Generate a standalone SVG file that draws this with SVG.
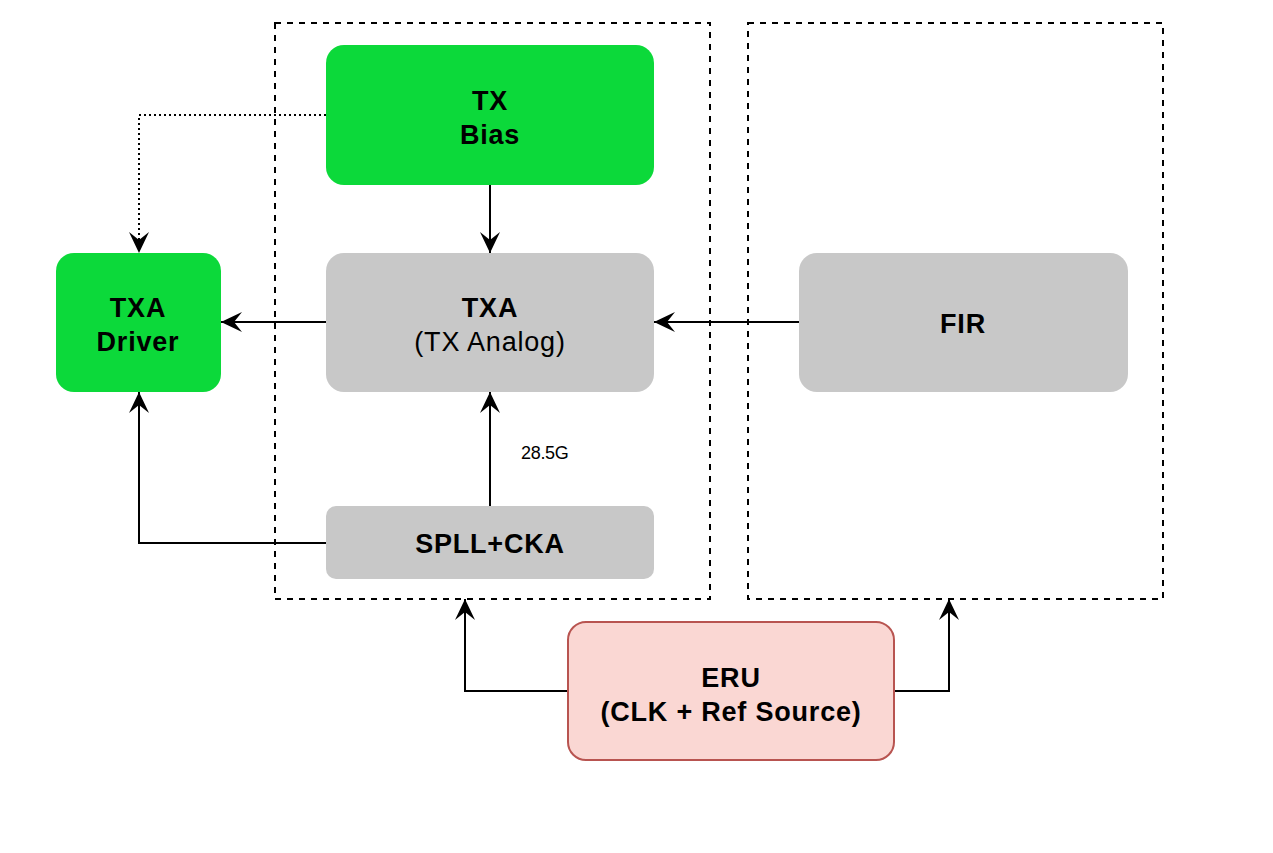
<svg xmlns="http://www.w3.org/2000/svg" width="1273" height="853" viewBox="0 0 1273 853">
<defs>
<marker id="arr" viewBox="0 0 22 22" refX="21" refY="11" markerWidth="22" markerHeight="22" markerUnits="userSpaceOnUse" orient="auto">
<path d="M0,1 L21,11 L0,21 L8,11 Z" fill="#000"/>
</marker>
</defs>
<style>
.grp{fill:none;stroke:#000;stroke-width:2;stroke-dasharray:6 6}
.green{fill:#0cd93a}
.gray{fill:#c8c8c8}
.eru{fill:#fad7d3;stroke:#b85450;stroke-width:2}
.t{font-family:"Liberation Sans",Arial,sans-serif;font-size:27px;text-anchor:middle;fill:#000;letter-spacing:0.8px}
.b{font-weight:bold}
.c{fill:none;stroke:#000;stroke-width:2}
.lbl{font-family:"Liberation Sans",Arial,sans-serif;font-size:18px;fill:#000;letter-spacing:-0.3px}
</style>
<rect width="1273" height="853" fill="#fff"/>
<g id="group-left"><rect class="grp" x="275" y="23" width="435" height="576"/></g>
<g id="group-right"><rect class="grp" x="748" y="23" width="415" height="576"/></g>
<g id="connectors">
<path class="c" d="M326,115 H139 V253" stroke-dasharray="2 3" marker-end="url(#arr)"/>
<path class="c" d="M490,185 V253" marker-end="url(#arr)"/>
<path class="c" d="M326,322 H221" marker-end="url(#arr)"/>
<path class="c" d="M799,322 H654" marker-end="url(#arr)"/>
<path class="c" d="M490,506 V392" marker-end="url(#arr)"/>
<path class="c" d="M326,543 H139 V392" marker-end="url(#arr)"/>
<path class="c" d="M568,691 H465 V599" marker-end="url(#arr)"/>
<path class="c" d="M894,691 H949 V599" marker-end="url(#arr)"/>
<text class="lbl" x="521" y="459">28.5G</text>
</g>
<g id="tx-bias"><rect class="green" x="326" y="45" width="328" height="140" rx="18"/>
<text class="t b" x="490" y="110">TX</text><text class="t b" x="490" y="144">Bias</text></g>
<g id="txa"><rect class="gray" x="326" y="253" width="328" height="139" rx="18"/>
<text class="t b" x="490" y="317">TXA</text><text class="t" x="490" y="351">(TX Analog)</text></g>
<g id="fir"><rect class="gray" x="799" y="253" width="329" height="139" rx="18"/>
<text class="t b" x="963" y="333">FIR</text></g>
<g id="txa-driver"><rect class="green" x="56" y="253" width="165" height="139" rx="18"/>
<text class="t b" x="138" y="317">TXA</text><text class="t b" x="138" y="351">Driver</text></g>
<g id="spll-cka"><rect class="gray" x="326" y="506" width="328" height="73" rx="10"/>
<text class="t b" x="490" y="553">SPLL+CKA</text></g>
<g id="eru"><rect class="eru" x="568" y="622" width="326" height="138" rx="18"/>
<text class="t b" x="731" y="687">ERU</text><text class="t b" x="731" y="721">(CLK + Ref Source)</text></g>
</svg>
